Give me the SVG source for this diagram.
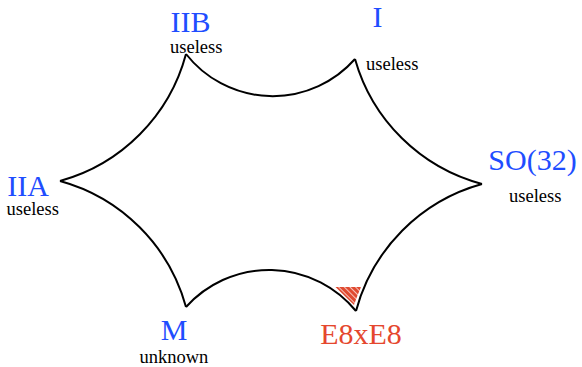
<svg xmlns="http://www.w3.org/2000/svg" width="582" height="367" viewBox="0 0 582 367">
<style>
.big{font-family:"Liberation Serif","Times New Roman",serif;font-size:30px;fill:#1f4dff;text-anchor:middle}
.red{fill:#e5472e}
.small{font-family:"Liberation Serif","Times New Roman",serif;font-size:18.5px;fill:#000}
.edge{fill:none;stroke:#000;stroke-width:2}
</style>
<defs>
<pattern id="hatch" width="4" height="4" patternUnits="userSpaceOnUse" patternTransform="rotate(-45)">
<rect width="4" height="4" fill="#e04a30"/>
<line x1="0.5" y1="0" x2="0.5" y2="4" stroke="#fff" stroke-opacity="0.75" stroke-width="0.9"/>
</pattern>
</defs>
<rect width="582" height="367" fill="#fff"/>
<path id="e8-region" d="M335.5,287 L361,287 Q357,296 354,305 Z" fill="url(#hatch)"/>
<g id="connectors">
<path class="edge" d="M186,54 A110,110 0 0 0 355,59"/>
<path class="edge" d="M355,59 A180,180 0 0 0 482,184"/>
<path class="edge" d="M482,184 A180,180 0 0 0 356,311"/>
<path class="edge" d="M356,311 A112,112 0 0 0 186,307"/>
<path class="edge" d="M186,307 A180,180 0 0 0 60,181"/>
<path class="edge" d="M60,181 A180,180 0 0 0 186,54"/>
</g>
<g id="IIB"><text class="big" x="190.5" y="32">IIB</text><text class="small" x="170" y="53">useless</text></g>
<g id="I"><text class="big" x="377.5" y="27">I</text><text class="small" x="366" y="70">useless</text></g>
<g id="SO32"><text class="big" x="532.5" y="170">SO(32)</text><text class="small" x="509" y="201.5">useless</text></g>
<g id="E8xE8"><text class="big red" x="361" y="344">E8xE8</text></g>
<g id="M"><text class="big" x="174" y="340">M</text><text class="small" x="139.5" y="363">unknown</text></g>
<g id="IIA"><text class="big" x="28" y="195.5">IIA</text><text class="small" x="6.5" y="215">useless</text></g>
</svg>
